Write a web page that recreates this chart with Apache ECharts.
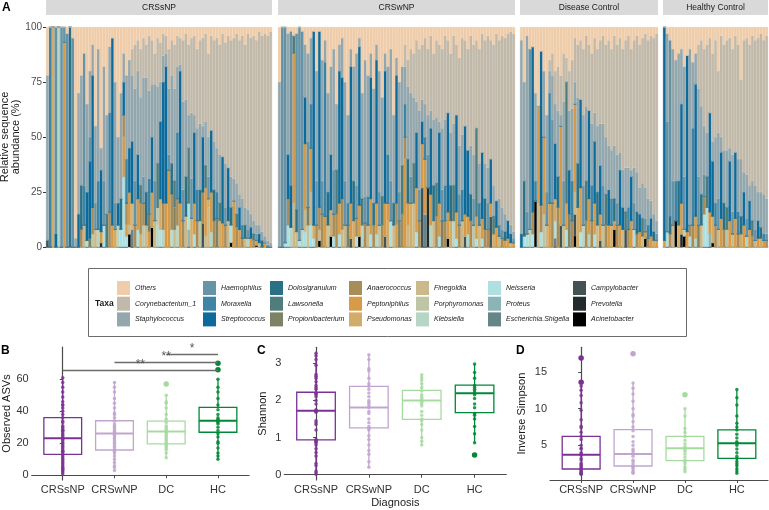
<!DOCTYPE html>
<html><head><meta charset="utf-8">
<script src="https://cdn.jsdelivr.net/npm/echarts@6/dist/echarts.min.js"></script>
<style>html,body{margin:0;padding:0;background:#fff}#c{width:769px;height:510px}</style>
</head><body><div id="c"></div>
<script>
// ---------- DATA ----------
const taxa = ['Others','Corynebacterium_1','Staphylococcus','Haemophilus','Moraxella','Streptococcus','Dolosigranulum','Lawsonella','Propionibacterium','Anaerococcus','Peptoniphilus','Pseudomonas','Finegoldia','Porphyromonas','Klebsiella','Neisseria','Proteus','Escherichia.Shigella','Campylobacter','Prevotella','Acinetobacter'];
const taxaKeys = ['O','Co','Sa','Ha','Mo','St','Do','La','Pr','An','Pe','Ps','Fi','Po','Kl','Ne','Pt','Es','Ca','Pv','Ac'];
const taxaColors = ['#efcdaa','#c1b9a9','#93a7ad','#6693a5','#3d84a5','#0c6b9b','#2b7186','#507c79','#7e8264','#a98d59','#d79b48','#d2ac6a','#c9b98b','#bdc5a5','#b5d5c5','#aee0e2','#8cb3b5','#668587','#435353','#242b2d','#000000'];
const facetNames = ['CRSsNP','CRSwNP','Disease Control','Healthy Control'];

const crssnpSamples = [
{Sa:75,O:22,Ca:3},{Mo:100},{Ps:100},{Ha:94,St:6},{Kl:100},{Ha:100},{Pe:93,Ha:7},{Ha:97,O:3},{Do:100},{Ha:95,O:5},
{O:96,Sa:4},{O:30,Sa:55,St:15},{O:22,Sa:50,Do:20,An:8},{O:12,Ha:60,Mo:18,Fi:10},{O:35,Sa:40,St:22,Ne:3},
{O:20,Sa:30,Ha:11,St:35,Pr:4},{O:8,Sa:14,St:60,An:12,Po:6},{O:45,Sa:35,Ha:12,Fi:8},{O:10,Sa:60,Mo:22,Kl:8},{O:55,Sa:10,St:28,Pv:2,Pe:5},
{O:18,Sa:52,Ha:20,Ne:10},{O:40,Sa:45,La:15},{O:9,Sa:30,Mo:45,An:16},{O:5,St:85,Pe:10},{O:25,Sa:55,Ha:12,Ps:8},
{O:50,Sa:30,St:10,Kl:10},{O:30,Sa:48,Do:14,Ne:8},{O:12,Sa:13,St:15,An:10,Pe:18,Ne:32},{O:22,Sa:38,Mo:20,An:10,Pe:5,Ne:5},{O:15,Sa:40,St:20,Pe:15,Fi:4,Ac:6},
{O:10,Co:12,Sa:30,St:28,Fi:12,Es:8},{O:8,Co:20,Sa:42,Ha:20,An:10},{O:6,Co:14,Sa:38,St:20,Pe:14,Ne:8},{O:10,Co:22,Sa:40,La:8,An:14,Ps:6},{O:5,Co:18,Sa:45,Ha:12,An:10,Po:10},
{O:8,Co:15,Sa:52,Do:15,Fi:10},{O:4,Co:25,Sa:40,Mo:16,Pr:8,Pe:7},{O:6,Co:20,Sa:24,St:25,Pe:16,Ac:9},{O:12,Co:14,Sa:44,Ha:18,Fi:12},{O:5,Co:22,Sa:35,La:20,Po:8,Kl:10},
{O:7,Co:18,Sa:18,St:35,Ps:14,Ne:8},{O:3,Co:10,Sa:12,St:55,An:12,Kl:8},{O:4,Co:8,Sa:6,St:62,Pe:20},{O:10,Co:18,Sa:30,Ha:7,Pe:35},{O:6,Co:16,Sa:40,Do:14,An:16,Ne:8},
{O:8,Co:20,Sa:42,La:12,Pr:10,Fi:8},{O:4,Co:14,Sa:30,Mo:30,An:12,Kl:10},{O:5,Co:12,Sa:3,St:60,Pe:20},{O:6,Co:28,Sa:40,Ha:14,An:12},{O:3,Co:30,Sa:35,Do:18,Fi:14},
{O:8,Co:32,Sa:15,La:25,Ne:12,Pt:8},{O:5,Co:34,Sa:30,Ha:18,Ps:13},{O:4,Co:36,Sa:8,St:32,Pe:14,Ne:6},{O:10,Co:36,Sa:28,Mo:14,An:12},{O:6,Co:38,Sa:30,Do:14,Po:12},
{O:5,Co:40,Sa:5,St:25,An:14,Ca:11},{O:3,Co:40,Sa:20,La:10,Pe:22,Fi:5},{O:12,Co:38,Sa:18,Ha:10,Fi:18,Ps:4},{O:4,Co:43,St:28,Pe:18,Kl:7},{O:6,Co:46,Sa:22,Do:14,An:12},
{O:5,Co:50,Sa:20,Mo:12,Pr:13},{O:8,Co:50,Sa:22,La:8,Ps:12},{O:3,Co:56,St:30,Pe:11},{O:7,Co:55,Sa:20,Ha:8,An:10},{O:4,Co:60,St:24,Fi:12},
{O:6,Co:62,Sa:14,Do:8,Ne:8,Ac:2},{O:5,Co:64,Sa:10,Pe:21},{O:3,Co:68,Sa:14,La:6,An:9},{O:6,Co:70,Sa:6,St:10,Pe:8},{O:4,Co:74,Sa:12,Mo:6,An:4},
{O:8,Co:74,Sa:8,Do:6,Fi:4},{O:3,Co:80,Sa:9,Ha:4,Kl:4},{O:5,Co:80,Sa:6,St:5,Pe:4},{O:4,Co:84,Sa:6,La:3,An:3},{O:6,Co:84,Sa:4,Ha:3,Ac:1,Pe:2},
{O:2,Co:88,Sa:4,St:4,Fi:2},{O:4,Co:89,Sa:4,Do:3},{O:3,Co:92,Sa:3,Pe:2},{O:4,Co:93,Sa:2,Ha:1},{O:2,Co:96,Sa:2}
];
const crswnpSamples = [
{Sa:75,O:25},{Ha:100},{Ha:98,Ne:2},{O:3,Sa:55,St:20,An:12,Ne:10},{O:2,Ha:70,St:19,Kl:9},
{O:4,La:8,Pe:68,Fi:20},{O:3,Ha:80,Do:10,Fi:7},{Ha:97,Ne:3},{O:2,Ha:90,Kl:8},{O:8,Sa:24,St:21,Pe:30,Fi:10,Ne:7},
{O:12,Sa:40,Ha:30,Po:10,Pr:8},{O:5,Sa:30,Mo:20,Fi:15,Pe:20,Ne:10},{O:2,St:88,Ps:6,Ne:4},{O:20,Sa:50,Ha:20,An:10},{O:2,St:80,An:10,Ac:3,Fi:5},
{O:15,Sa:55,Ha:15,An:15},{O:6,Sa:10,Mo:70,Pe:14},{O:30,Sa:45,Do:15,Po:10},{O:18,Sa:40,St:25,Ps:12,Ac:5},{O:10,Sa:55,Ha:20,Ne:5,An:10},
{O:35,Sa:30,La:20,An:15},{O:8,Sa:12,St:60,Pe:14,Ne:6},{O:5,Sa:18,St:55,Fi:8,An:14},{O:25,Sa:45,Ha:20,Fi:10},{O:40,Sa:40,Mo:10,Pr:10},
{O:10,Sa:8,St:62,Pe:16,Ca:4},{O:18,Sa:52,Do:18,Ps:12},{O:12,Sa:60,Ha:15,An:8,Ne:5},{O:5,Sa:4,St:72,Pe:14,Ac:5},{O:30,Sa:48,La:12,Kl:10},
{O:15,Sa:62,Ha:12,An:11},{O:22,Sa:55,Mo:13,Fi:10},{O:12,Sa:11,St:55,Pe:16,Ne:6},{O:28,Sa:52,Do:10,An:10},{O:8,Sa:7,St:65,Pe:14,Kl:6},
{O:20,Sa:55,Ha:15,Po:10},{O:32,Sa:45,La:13,An:10},{O:12,Sa:8,St:60,Pe:15,Ca:5},{O:18,Sa:40,Mo:22,Ps:12,Pe:8},{O:10,Sa:60,Ha:18,Ne:12},
{O:40,Sa:40,Do:10,Fi:10},{O:14,Sa:8,St:58,An:10,Pe:10},{O:25,Sa:50,Ha:13,Pr:12},{O:18,Sa:45,La:22,An:15},{O:8,Co:10,Sa:17,Mo:15,Pe:40,An:10},
{O:15,Co:12,Sa:33,Do:20,Fi:10,Pe:10},{O:10,Co:20,Sa:38,Ha:12,Ps:20},{O:12,Co:20,Sa:30,La:18,Fi:20},{O:6,Co:28,Sa:14,St:25,Pe:20,Ne:7},{O:10,Co:28,Sa:36,Ha:14,An:12},
{O:8,Co:25,Sa:10,St:10,Pe:20,Ca:27},{O:5,Co:30,Sa:15,Mo:10,Pe:25,Es:15},{O:10,Co:30,Sa:18,Ha:15,Pv:27},{O:4,Co:34,Sa:8,St:30,Pe:14,Kl:10},{O:12,Co:30,Sa:30,Do:16,Fi:12},
{O:6,Co:35,Sa:30,La:15,An:14},{O:8,Co:35,Sa:5,St:32,Pe:15,Ne:5},{O:10,Co:36,Sa:28,Ha:14,Pr:12},{O:4,Co:38,Sa:30,Mo:16,An:12},{O:6,Co:33,St:45,Pe:12,Ac:4},
{O:12,Co:36,Sa:24,Do:16,Ps:12},{O:4,Co:40,Sa:28,La:16,Kl:12},{O:8,Co:32,St:44,Pe:12,Ne:4},{O:14,Co:40,Sa:22,Ha:14,An:10},{O:5,Co:44,Sa:25,Mo:14,Fi:12},
{O:6,Co:39,St:40,Pe:10,Ca:5},{O:10,Co:46,St:30,Pe:8,Kl:6},{O:4,Co:50,Sa:22,Do:12,An:12},{O:8,Co:50,Sa:20,Ha:12,Po:10},{O:6,Co:40,La:40,Pe:10,Ne:4},
{O:10,Co:52,Sa:18,Mo:10,Fi:10},{O:3,Co:54,St:30,Pe:9,Ne:4},{O:6,Co:56,Sa:16,Do:14,An:8},{O:4,Co:60,Sa:16,Ha:12,An:8},{O:6,Co:54,St:20,Pe:6,Ca:14},
{O:8,Co:64,Sa:14,La:8,Ps:6},{O:3,Co:76,St:12,Pe:9},{O:6,Co:72,Sa:12,Mo:5,Fi:5},{O:4,Co:78,Sa:10,Ha:4,An:4},{O:5,Co:80,Sa:8,Do:4,Pe:3},
{O:3,Co:85,St:8,Pe:4},{O:2,Co:88,Sa:4,St:4,Fi:2},{O:3,Co:90,Sa:3,Ha:2,Pe:2}
];
const dcSamples = [
{O:6,Sa:88,St:6},{O:25,Sa:45,Do:25,Ne:5},{O:4,Sa:80,Ha:10,Ne:6},{O:10,Ha:82,Kl:8},{O:9,St:75,An:10,Ne:6},
{O:30,Sa:40,Mo:9,Ac:21},{O:36,Pe:44,Fi:20},{O:11,St:70,An:12,Ne:7},{O:20,Sa:30,Pe:35,Po:15},{O:40,Sa:35,Ha:15,Fi:10},
{O:15,Co:5,Sa:10,Mo:50,Pe:20},{O:12,Co:10,Sa:20,Ha:38,An:20},{O:20,Co:15,Sa:18,St:25,Ps:10,Ne:8,Es:4},{O:18,Co:20,Sa:30,Do:14,An:18},{O:22,Co:18,Sa:5,Pe:45,Ca:10},
{O:12,Co:22,Sa:36,Ha:20,Fi:10},{O:14,Co:11,La:55,Pe:12,Ne:8},{O:20,Co:18,Sa:27,St:20,Pr:15},{O:15,Co:22,Sa:33,Mo:18,An:12},{O:5,Co:20,Sa:10,Pe:40,Fi:10,Ca:10,Ac:5},
{O:8,Co:24,Sa:30,Do:20,Ps:18},{O:6,Co:27,St:40,Pe:20,Ne:7},{O:10,Co:30,Sa:32,Ha:18,Kl:10},{O:4,Co:32,Sa:34,La:18,An:12},{O:8,Co:30,St:40,Pe:16,Kl:6},
{O:12,Co:32,Sa:28,Mo:16,An:12},{O:5,Co:34,Sa:13,St:28,Pe:14,Ne:6},{O:10,Co:35,Sa:30,Do:15,Fi:10},{O:6,Co:38,Sa:19,St:22,Pe:12,Ca:3},{O:4,Co:40,Sa:28,Ha:18,Po:10},
{O:8,Co:42,Sa:26,La:14,An:10},{O:6,Co:48,Sa:20,St:16,Pe:10},{O:10,Co:46,Sa:22,Mo:12,Ps:10},{O:4,Co:50,Sa:24,Do:10,Pe:4,Ac:8},{O:8,Co:50,Sa:22,Ha:10,An:10},
{O:5,Co:52,Sa:8,St:25,Pe:10},{O:10,Co:55,Sa:17,St:10,Fi:8},{O:6,Co:58,Sa:20,La:8,Ca:8},{O:4,Co:60,Sa:18,Mo:10,An:8},{O:10,Co:55,Sa:3,St:20,Pe:12},
{O:6,Co:58,Sa:16,Ha:12,Ne:8},{O:4,Co:62,Sa:18,Do:10,An:6},{O:8,Co:65,Sa:12,St:8,Pe:7},{O:5,Co:66,Sa:16,La:8,Fi:5},{O:3,Co:70,Sa:14,Ha:6,Pe:3,Ac:4},
{O:6,Co:72,Sa:12,Mo:6,An:4},{O:4,Co:75,Sa:8,St:8,Pe:5},{O:5,Co:80,Sa:8,Do:4,Ps:3},{O:3,Co:85,Sa:6,Ha:3,Pe:3}
];
const hcSamples = [
{St:97,Pe:3},{O:3,Sa:40,Ha:50,Ne:7},{O:6,Ha:80,Do:8,An:6},{O:10,Sa:60,Ha:20,Fi:10},{O:15,Sa:55,Mo:18,Ac:12},
{O:12,Sa:58,Do:20,Ps:10},{O:10,Sa:25,St:45,Pe:14,Pv:6},{O:18,Sa:50,Ha:24,Kl:3,Ac:5},{O:13,St:80,Pe:7},{O:10,Sa:80,Ne:5,An:5},
{O:16,Sa:30,Mo:44,An:10},{O:12,Sa:14,St:60,Pe:10,Kl:4},{O:8,Co:20,Sa:40,Ha:22,Pr:10},{O:6,Co:30,Sa:40,Do:14,Fi:10},{O:10,Co:35,Sa:22,Ha:10,An:8,Ne:15},
{O:8,Co:40,Sa:20,La:14,Ne:18},{O:5,Co:34,St:45,Pe:10,Pt:6},{O:12,Co:40,Sa:9,St:25,Ps:12,Ac:2},{O:6,Co:44,Sa:30,Mo:10,An:10},{O:20,Co:28,Sa:30,Ha:14,Fi:8},
{O:4,Co:46,Sa:7,St:30,Pe:13},{O:8,Co:48,Sa:24,Do:12,An:8},{O:6,Co:50,Sa:26,La:10,Po:8},{O:5,Co:50,Sa:6,St:27,Pe:12},{O:10,Co:48,Sa:26,Ha:10,Fi:6},
{O:4,Co:53,St:30,Pe:13},{O:8,Co:52,Sa:24,Mo:10,An:6},{O:24,Co:36,Sa:26,Do:8,Ps:6},{O:6,Co:60,Sa:9,St:15,Pe:10},{O:5,Co:62,Sa:20,Ha:8,Kl:5},
{O:8,Co:64,Sa:7,St:13,Pe:8},{O:4,Co:66,Sa:18,La:7,An:5},{O:6,Co:66,Sa:20,Ha:5,Fi:3},{O:5,Co:70,Sa:13,St:8,Pe:4},{O:3,Co:72,Sa:16,Do:5,Ps:4},
{O:6,Co:70,Sa:18,Mo:3,Pe:3},{O:4,Co:74,Sa:16,Ha:3,An:3}
];

const groups = ['CRSsNP','CRSwNP','DC','HC'];
const groupColors = ['#7b3294','#c2a5cf','#a6dba0','#008837'];

// box stats: [min, Q1, median, Q3, max]
const observedBox = [[1,13.1,23.1,36,61],[3,15.8,26.2,34.1,58.5],[11,19.6,27.3,33.9,50],[10,26.9,34.1,42.5,60.6]];
const observedPoints = [
[61,58,55,52,49,46,44,44,42,40,38,36,34,33,31,30,29,28,28,27,26,25,24,23,23,22,21,20,19,18,17,16,15,15,14,13,12,11,10,9,8,7,6,5,4,4,3,2,1],
[58,55,52,48,45,42,39,38,36,34,32,31,30,29,28,27,27,26,25,24,23,22,21,20,19,18,17,16,15,14,12,10,8,6,5,3],
[50,46,45,42,38,35,33,31,30,29,28,27,27,26,25,24,23,22,21,20,19,18,17,16,14,11],
[60,55,52,48,44,41,38,36,35,34,34,33,32,30,28,26,24,21,20,17,14,12,10]];
const observedOutliers = [[],[],[57],[66,70]];
const sigPairs = [[0,3,65.4,'**'],[1,3,70.4,'**'],[2,3,75.4,'*']];

const shannonBox = [[0.01,0.935,1.72,2.22,3.27],[0.2,1.26,1.81,2.38,3.23],[0.8,1.49,2.0,2.27,2.69],[0.86,1.67,2.19,2.41,2.98]];
const shannonPoints = [
[3.27,3.2,3.1,2.95,2.7,2.65,2.6,2.5,2.4,2.35,2.3,2.2,2.18,2.15,2.1,2.0,1.9,1.75,1.72,1.7,1.68,1.45,1.4,1.35,1.2,0.95,0.93,0.9,0.88,0.85,0.8,0.7,0.6,0.5,0.3,0.25,0.1,0.05,0.01],
[3.23,3.1,2.85,2.8,2.6,2.45,2.38,2.3,2.2,2.1,2.0,1.95,1.9,1.85,1.8,1.7,1.65,1.5,1.4,1.3,1.25,1.2,1.05,0.95,0.8,0.65,0.55,0.35,0.2],
[2.69,2.62,2.55,2.45,2.35,2.25,2.15,2.1,2.05,2.0,1.95,1.9,1.85,1.7,1.6,1.5,1.45,1.35,1.2,1.0,0.9,0.8],
[2.98,2.75,2.6,2.4,2.35,2.3,2.25,2.2,2.15,2.05,1.9,1.8,1.65,1.6,1.5,1.3,1.1,0.86]];
const shannonOutliers = [[],[],[],[0.53]];

const invSimpsonBox = [[1.05,1.77,3.72,6.23,13.1],[1.19,2.18,3.82,7.13,13.5],[1.4,2.9,4.6,6.23,10.0],[1.19,3.23,5.28,7.1,12.6]];
const invSimpsonPoints = [
[13.1,12.5,11.8,10.8,9.8,8.5,7.6,7.4,6.8,6.2,5.8,5.0,4.6,4.5,4.0,3.8,3.6,3.2,3.0,2.6,2.4,2.2,2.0,1.8,1.6,1.4,1.3,1.2,1.1,1.05],
[13.5,12.8,12.0,11.0,10.0,9.2,9.0,8.2,7.5,7.0,6.2,5.5,5.0,4.5,4.3,4.0,3.8,3.5,3.0,2.8,2.5,2.2,2.0,1.8,1.5,1.3,1.2],
[10.0,9.0,7.3,6.8,6.2,5.7,5.2,4.8,4.6,4.4,4.2,3.8,3.4,3.0,2.8,2.5,2.0,1.7,1.4],
[12.6,11.5,10.5,9.0,8.0,7.5,7.1,6.5,6.0,5.5,5.3,5.0,4.5,4.0,3.5,3.2,2.8,2.5,2.2,1.8,1.5,1.2]];
const invSimpsonOutliers = [[16.9,13.6],[17.5],[11.9],[]];

// ---------- LAYOUT / BUILD ----------
const FONT = '"Liberation Sans", Arial, Helvetica, sans-serif';
const chart = echarts.init(document.getElementById('c'), null, {renderer:'canvas', width:769, height:510});
const grid = [], xAxis = [], yAxis = [], series = [], graphic = [], legend = [];

const facetSamples = [crssnpSamples, crswnpSamples, dcSamples, hcSamples];
const facetLayout = [{left:46,width:226},{left:278,width:237},{left:520,width:138},{left:663,width:105}];

facetSamples.forEach((samples, f) => {
  const L = facetLayout[f];
  grid.push({left:L.left, width:L.width, top:27, height:220, outerBoundsMode:'none', containLabel:false});
  xAxis.push({type:'category', gridIndex:f, data:samples.map((_, i) => 'S' + (i + 1)), boundaryGap:true, offset:11,
    axisLine:{show:true, lineStyle:{color:'#cfcfcf', width:1.5}}, axisTick:{show:false}, axisLabel:{show:false}, splitLine:{show:false}});
  yAxis.push({type:'value', gridIndex:f, min:0, max:100, interval:25, show:f === 0,
    axisLine:{show:false}, axisTick:{show:true, length:3, lineStyle:{color:'#333'}},
    axisLabel:{fontSize:10, color:'#4d4d4d', margin:4, fontFamily:FONT}, splitLine:{show:false},
    name:f === 0 ? 'Relative sequence\nabundance (%)' : '', nameLocation:'middle', nameGap:24,
    nameTextStyle:{fontSize:11, color:'#1a1a1a', lineHeight:11, fontFamily:FONT}});
  for (let t = taxa.length - 1; t >= 0; t--) {
    series.push({type:'bar', name:taxa[t], xAxisIndex:f, yAxisIndex:f, stack:'A' + f,
      data:samples.map(s => s[taxaKeys[t]] || 0), barWidth:'100%', barCategoryGap:'0%',
      itemStyle:{color:taxaColors[t], borderColor:taxaColors[t], borderWidth:0.3},
      silent:true, emphasis:{disabled:true}, animation:false});
  }
  graphic.push({type:'rect', shape:{x:L.left, y:0, width:L.width, height:15}, style:{fill:'#d9d9d9'}, silent:true});
  graphic.push({type:'text', x:L.left + L.width / 2, y:8, silent:true,
    style:{text:facetNames[f], fill:'#1a1a1a', font:'8.5px ' + FONT, textAlign:'center', textVerticalAlign:'middle'}});
});

// legend
const legendCols = [[0,1,2],[3,4,5],[6,7,8],[9,10,11],[12,13,14],[15,16,17],[18,19,20]];
const legendLefts = [117,203,270,349,416,488,573];
legendCols.forEach((col, i) => {
  legend.push({orient:'vertical', left:legendLefts[i], top:281, padding:0, itemWidth:13, itemHeight:14, itemGap:1.7,
    icon:'rect', selectedMode:false, data:col.map(k => taxa[k]), itemStyle:{borderWidth:0},
    textStyle:{fontSize:7, fontStyle:'italic', color:'#1a1a1a', fontFamily:FONT}});
});
graphic.push({type:'rect', shape:{x:88.5, y:268.5, width:598, height:68}, style:{fill:'none', stroke:'#6b6b6b', lineWidth:1}, silent:true});
graphic.push({type:'text', x:95, y:304, silent:true, style:{text:'Taxa', font:'bold 8.5px ' + FONT, fill:'#1a1a1a', textVerticalAlign:'middle'}});

// panel letters
[['A',2,8],['B',1,351],['C',257,351],['D',516,351]].forEach(([t, x, y]) => {
  graphic.push({type:'text', x, y, silent:true, style:{text:t, font:'bold 12px ' + FONT, fill:'#000', textVerticalAlign:'middle'}});
});

// box panels
function renderBox(params, api) {
  const x = api.value(0);
  const pMin = api.coord([x, api.value(1)]);
  const xc = pMin[0], yMin = pMin[1];
  const yQ1 = api.coord([x, api.value(2)])[1];
  const yMed = api.coord([x, api.value(3)])[1];
  const yQ3 = api.coord([x, api.value(4)])[1];
  const yMax = api.coord([x, api.value(5)])[1];
  const hw = api.size([0.73, 0])[0] / 2;
  const col = groupColors[x];
  const st = {stroke:col, lineWidth:1.3};
  return {type:'group', children:[
    {type:'line', shape:{x1:xc, y1:yMax, x2:xc, y2:yQ3}, style:st},
    {type:'line', shape:{x1:xc, y1:yQ1, x2:xc, y2:yMin}, style:st},
    {type:'rect', shape:{x:xc - hw, y:yQ3, width:2 * hw, height:yQ1 - yQ3}, style:{stroke:col, lineWidth:1.3, fill:'rgba(255,255,255,0)'}},
    {type:'line', shape:{x1:xc - hw, y1:yMed, x2:xc + hw, y2:yMed}, style:{stroke:col, lineWidth:2}}
  ]};
}

const panels = [
  {left:31.7, top:347, width:217.3, height:133, ymin:-2.94, ymax:80.2, ticks:[0,20,40,60], name:'Observed ASVs', nameGap:19, box:observedBox, pts:observedPoints, out:observedOutliers, sig:true},
  {left:284.3, top:347.3, width:222, height:132.7, ymin:-0.143, ymax:3.43, ticks:[0,1,2,3], name:'Shannon', nameGap:16, box:shannonBox, pts:shannonPoints, out:shannonOutliers, xname:'Diagnosis'},
  {left:550, top:347.3, width:218, height:132.7, ymin:0.27, ymax:18.37, ticks:[5,10,15], name:'Inverse Simpson', nameGap:23, box:invSimpsonBox, pts:invSimpsonPoints, out:invSimpsonOutliers}
];
panels.forEach((p, k) => {
  const gi = 4 + k;
  grid.push({left:p.left, top:p.top, width:p.width, height:p.height, outerBoundsMode:'none', containLabel:false});
  xAxis.push({type:'value', gridIndex:gi, min:-0.6, max:3.6,
    axisLine:{show:true, lineStyle:{color:'#4a4a4a', width:1.2}},
    axisTick:{show:true, length:3, customValues:[0,1,2,3], lineStyle:{color:'#4a4a4a'}},
    axisLabel:{customValues:[0,1,2,3], formatter:v => groups[Math.round(v)] || '', fontSize:11, color:'#333', margin:4, fontFamily:FONT},
    splitLine:{show:false},
    name:p.xname || '', nameLocation:'middle', nameGap:17, nameTextStyle:{fontSize:11, color:'#1a1a1a', fontFamily:FONT}});
  yAxis.push({type:'value', gridIndex:gi, min:p.ymin, max:p.ymax,
    axisLine:{show:true, lineStyle:{color:'#4a4a4a', width:1.2}},
    axisTick:{show:true, length:3, customValues:p.ticks, lineStyle:{color:'#4a4a4a'}},
    axisLabel:{customValues:p.ticks, fontSize:11, color:'#333', margin:3, fontFamily:FONT},
    splitLine:{show:false},
    name:p.name, nameLocation:'middle', nameGap:p.nameGap, nameTextStyle:{fontSize:11, color:'#1a1a1a', fontFamily:FONT}});
  series.push({type:'custom', xAxisIndex:gi, yAxisIndex:gi, renderItem:renderBox,
    data:p.box.map((b, i) => [i].concat(b)), encode:{x:0, y:[1,2,3,4,5]}, silent:true, animation:false, z:2});
  const ptData = [];
  p.pts.forEach((arr, g) => arr.forEach(v => ptData.push([g, v])));
  const ptSeries = {type:'scatter', xAxisIndex:gi, yAxisIndex:gi, data:ptData, symbolSize:3.5,
    itemStyle:{color:prm => groupColors[prm.value[0]], opacity:0.85}, silent:true, animation:false, z:3};
  if (p.sig) {
    ptSeries.markLine = {silent:true, symbol:['none','none'], animation:false,
      lineStyle:{color:'#6b6b6b', width:1.3, type:'solid'},
      label:{show:true, position:'insideMiddleTop', distance:0, formatter:'{b}', color:'#555', fontSize:12, fontFamily:FONT},
      data:sigPairs.map(s => [{name:s[3], coord:[s[0], s[2]]}, {coord:[s[1], s[2]]}])};
  }
  series.push(ptSeries);
  const outData = [];
  p.out.forEach((arr, g) => arr.forEach(v => outData.push([g, v])));
  series.push({type:'scatter', xAxisIndex:gi, yAxisIndex:gi, data:outData, symbolSize:5.5,
    itemStyle:{color:prm => groupColors[prm.value[0]], opacity:1}, silent:true, animation:false, z:4});
});

chart.setOption({
  animation:false,
  backgroundColor:'#ffffff',
  textStyle:{fontFamily:FONT},
  grid, xAxis, yAxis, series, legend, graphic
});
</script>
</body></html>
